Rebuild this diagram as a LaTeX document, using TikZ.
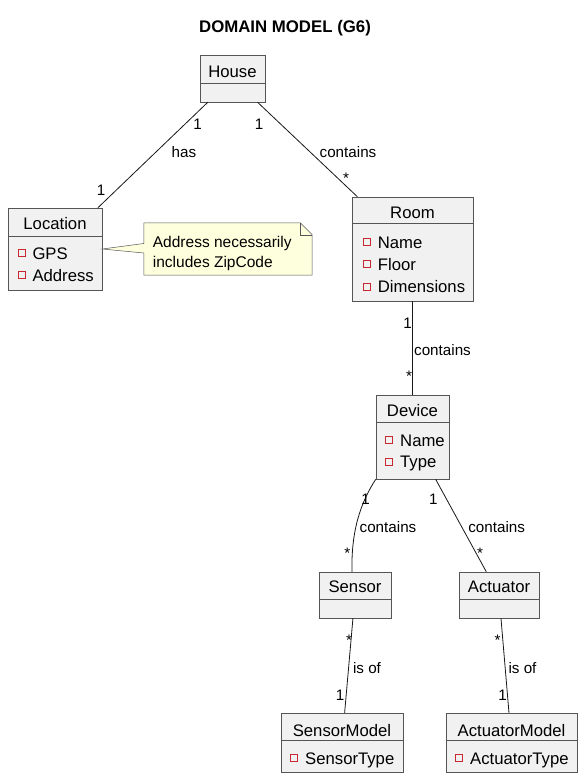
\documentclass[tikz,border=0pt]{standalone}
\usepackage{fontspec}
\setmainfont{Liberation Sans}
\usetikzlibrary{calc}
\definecolor{boxfill}{HTML}{F1F1F1}
\definecolor{boxline}{HTML}{555555}
\definecolor{edgeline}{HTML}{181818}
\definecolor{notefill}{HTML}{FEFFDD}
\definecolor{iconred}{HTML}{C82930}
\begin{document}
\begin{tikzpicture}[x=1pt,y=-1pt,
  cls/.style={draw=boxline, line width=0.5pt, fill=boxfill, inner sep=0pt},
  sepline/.style={draw=boxline, line width=0.5pt},
  clsname/.style={inner sep=0pt, font=\fontsize{16.7}{20}\selectfont, text height=12pt, text depth=0pt},
  attr/.style={inner sep=0pt, anchor=west, font=\fontsize{16.7}{20}\selectfont, text height=12pt, text depth=0pt},
  icon/.style={draw=iconred, line width=0.8pt},
  assoc/.style={draw=edgeline, line width=0.8pt},
  lbl/.style={inner sep=0pt, font=\fontsize{15.2}{18}\selectfont, text height=10.9pt, text depth=0pt},
  notetxt/.style={inner sep=0pt, anchor=west, font=\fontsize{15.5}{18}\selectfont, text height=11.1pt, text depth=0pt},
  notebox/.style={draw=boxline, line width=0.5pt, fill=notefill, line join=miter}
]
\useasboundingbox (0,0) rectangle (586,779);
\fill[white] (0,0) rectangle (586,779);

% title
\node[inner sep=0pt, font=\bfseries\fontsize{16.8}{20}\selectfont, text height=12.1pt, text depth=0pt] (title) at (285,26) {DOMAIN MODEL (G6)};

% House
\node[cls, minimum width=65pt, minimum height=47pt] (house) at (232.5,78.5) {};
\draw[sepline] (house.west |- 0,83) -- (house.east |- 0,83);
\node[clsname] (house-n) at (232.5,71) {House};

% Location
\node[cls, minimum width=94pt, minimum height=82pt] (location) at (55,249) {};
\draw[sepline] (location.west |- 0,236) -- (location.east |- 0,236);
\node[clsname] (location-n) at (55,223.3) {Location};
\draw[icon] (18.3,249.8) rectangle (25,256.8);
\node[attr] (location-a1) at (32.3,253.3) {GPS};
\draw[icon] (18.3,271.5) rectangle (25,278.5);
\node[attr] (location-a2) at (32.3,275) {Address};

% Room
\node[cls, minimum width=121pt, minimum height=104pt] (room) at (412.5,249) {};
\draw[sepline] (room.west |- 0,223) -- (room.east |- 0,223);
\node[clsname] (room-n) at (412.5,212.5) {Room};
\draw[icon] (363.3,238.8) rectangle (370,245.8);
\node[attr] (room-a1) at (377.7,242.3) {Name};
\draw[icon] (363.3,260.5) rectangle (370,267.5);
\node[attr] (room-a2) at (377.7,264) {Floor};
\draw[icon] (363.3,283.2) rectangle (370,290.2);
\node[attr] (room-a3) at (377.7,286.7) {Dimensions};

% Device
\node[cls, minimum width=73pt, minimum height=84pt] (device) at (412.5,437) {};
\draw[sepline] (device.west |- 0,422.3) -- (device.east |- 0,422.3);
\node[clsname] (device-n) at (412.5,410.7) {Device};
\draw[icon] (385.5,436.5) rectangle (392.2,443.5);
\node[attr] (device-a1) at (400,440) {Name};
\draw[icon] (385.5,458.2) rectangle (392.2,465.2);
\node[attr] (device-a2) at (400,461.7) {Type};

% Sensor
\node[cls, minimum width=72pt, minimum height=46pt] (sensor) at (355,595) {};
\draw[sepline] (sensor.west |- 0,599.3) -- (sensor.east |- 0,599.3);
\node[clsname] (sensor-n) at (355,586.7) {Sensor};

% Actuator
\node[cls, minimum width=80pt, minimum height=46pt] (actuator) at (499,595) {};
\draw[sepline] (actuator.west |- 0,599.3) -- (actuator.east |- 0,599.3);
\node[clsname] (actuator-n) at (499,586.7) {Actuator};

% SensorModel
\node[cls, minimum width=122pt, minimum height=59pt] (smodel) at (342,742.5) {};
\draw[sepline] (smodel.west |- 0,740.7) -- (smodel.east |- 0,740.7);
\node[clsname] (smodel-n) at (342,730) {SensorModel};
\draw[icon] (290.6,754.8) rectangle (297.3,761.8);
\node[attr] (smodel-a1) at (305,758.3) {SensorType};

% ActuatorModel
\node[cls, minimum width=131pt, minimum height=59pt] (amodel) at (511.5,742.5) {};
\draw[sepline] (amodel.west |- 0,740.7) -- (amodel.east |- 0,740.7);
\node[clsname] (amodel-n) at (511.5,730) {ActuatorModel};
\draw[icon] (455.6,754.8) rectangle (462.3,761.8);
\node[attr] (amodel-a1) at (470,758.3) {ActuatorType};

% Note
\node[inner sep=0pt, minimum width=168pt, minimum height=52pt] (note) at (228,249) {};
\filldraw[notebox] (note.north west) -- ($(note.north east)+(-12,0)$) -- ($(note.north east)+(0,12)$)
  -- (note.south east) -- (note.south west) -- (note.west |- 0,253)
  -- (location.east |- 0,249) -- (note.west |- 0,243.5) -- cycle;
\draw[notebox, fill=none] ($(note.north east)+(-12,0)$) -- ($(note.north east)+(-12,12)$) -- ($(note.north east)+(0,12)$);
\node[notetxt] (note-l1) at (152.7,241.7) {Address necessarily};
\node[notetxt] (note-l2) at (152.7,261.7) {includes ZipCode};

% Associations
\draw[assoc] (house) -- (location);
\draw[assoc] (house) -- (room);
\draw[assoc] (room) -- (device);
\draw[assoc] (device.south west) .. controls (361,502) and (351,530) .. ([xshift=-3pt]sensor.north);
\draw[assoc] (device) -- (actuator);
\draw[assoc] (sensor) -- (smodel);
\draw[assoc] (actuator) -- (amodel);

% Labels
\node[lbl] (l-hl1) at (197.5,124) {1};
\node[lbl] (l-hl2) at (184,152) {has};
\node[lbl] (l-hl3) at (101,190) {1};
\node[lbl] (l-hr1) at (259,124) {1};
\node[lbl] (l-hr2) at (348,152) {contains};
\node[lbl] (l-hr3) at (346,178) {*};
\node[lbl] (l-rd1) at (407.7,323) {1};
\node[lbl] (l-rd2) at (442.5,350) {contains};
\node[lbl] (l-rd3) at (409,375.7) {*};
\node[lbl] (l-ds1) at (365.7,499) {1};
\node[lbl] (l-ds2) at (388,527) {contains};
\node[lbl] (l-ds3) at (347.3,553) {*};
\node[lbl] (l-da1) at (433.3,499) {1};
\node[lbl] (l-da2) at (496.7,527) {contains};
\node[lbl] (l-da3) at (480,553) {*};
\node[lbl] (l-ss1) at (349,639.7) {*};
\node[lbl] (l-ss2) at (367,668.3) {is of};
\node[lbl] (l-ss3) at (340,695) {1};
\node[lbl] (l-aa1) at (497.7,640) {*};
\node[lbl] (l-aa2) at (522.5,668) {is of};
\node[lbl] (l-aa3) at (502.7,695) {1};
\end{tikzpicture}
\end{document}
